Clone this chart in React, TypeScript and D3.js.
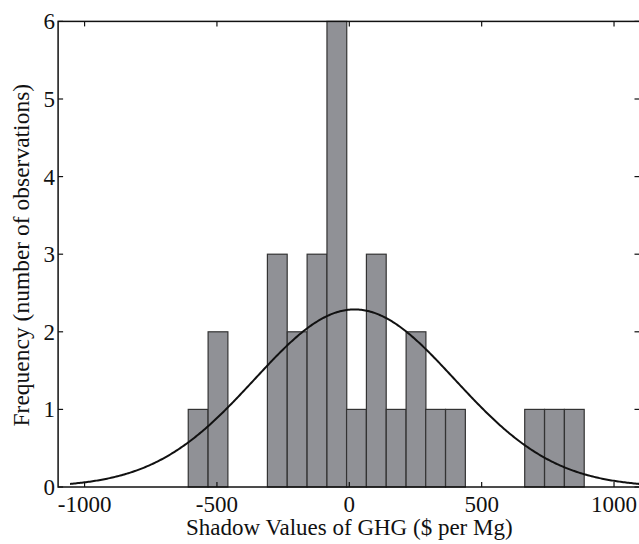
import React from "react";
import * as d3 from "d3";

// histogram bins (centres in $ per Mg) and counts
const binCenters = [-571, -496, -421, -346, -272, -197, -122, -47, 27, 102, 177, 252, 326, 401, 476, 551, 625, 700, 775, 850];
const counts = [1, 2, 0, 0, 3, 2, 3, 6, 1, 3, 1, 2, 1, 1, 0, 0, 0, 1, 1, 1];
const binWidth = 74.75;

// fitted normal (histfit) parameters estimated from the curve
const fitMean = 20;
const fitSd = 378;
const fitRange = [-1055, 1095];

const xTicks = [-1000, -500, 0, 500, 1000];
const yTicks = [0, 1, 2, 3, 4, 5, 6];

const W = 639;
const H = 544;
const font = "'Liberation Serif', 'Times New Roman', serif";

export default function App() {
  const x = d3.scaleLinear().domain([-1100, 1100]).range([58.1, 640.5]);
  const y = d3.scaleLinear().domain([0, 6]).range([487, 21.4]);

  const n = d3.sum(counts);
  const pdf = (v: number) =>
    (n * binWidth) / (fitSd * Math.sqrt(2 * Math.PI)) * Math.exp(-0.5 * ((v - fitMean) / fitSd) ** 2);
  const curveX = d3.range(fitRange[0], fitRange[1] + 1, 5);
  const fitLine = d3
    .line<number>()
    .x((v) => x(v))
    .y((v) => y(pdf(v)));

  const [x0, x1] = x.range();
  const [y0, y1] = y.range();
  const tick = 5;

  return (
    <svg width={W} height={H} style={{ position: "absolute", left: 0, top: 0, background: "#fff" }}>
      <defs>
        <clipPath id="plot">
          <rect x={x0} y={y1} width={x1 - x0} height={y0 - y1} />
        </clipPath>
      </defs>

      {/* bars */}
      {counts.map((c, i) =>
        c > 0 ? (
          <rect
            key={i}
            x={x(binCenters[i] - binWidth / 2)}
            y={y(c)}
            width={x(binCenters[i] + binWidth / 2) - x(binCenters[i] - binWidth / 2)}
            height={y(0) - y(c)}
            fill="#909196"
            stroke="#333"
            strokeWidth={1.2}
          />
        ) : null
      )}

      {/* fit curve */}
      <path d={fitLine(curveX) ?? ""} fill="none" stroke="#111" strokeWidth={2} clipPath="url(#plot)" />

      {/* frame */}
      <rect x={x0} y={y1} width={x1 - x0} height={y0 - y1} fill="none" stroke="#111" strokeWidth={1.5} />

      {/* x ticks (bottom and top, inward) */}
      {xTicks.map((t) => (
        <g key={t}>
          <line x1={x(t)} x2={x(t)} y1={y0} y2={y0 - tick} stroke="#111" strokeWidth={1.2} />
          <line x1={x(t)} x2={x(t)} y1={y1} y2={y1 + tick} stroke="#111" strokeWidth={1.2} />
          <text x={x(t)} y={512} textAnchor="middle" fontFamily={font} fontSize={23} fill="#111">
            {t}
          </text>
        </g>
      ))}

      {/* y ticks (left and right, inward) */}
      {yTicks.map((t) => (
        <g key={t}>
          <line x1={x0} x2={x0 + tick} y1={y(t)} y2={y(t)} stroke="#111" strokeWidth={1.2} />
          <line x1={x1} x2={x1 - tick - 1} y1={y(t)} y2={y(t)} stroke="#111" strokeWidth={1.2} />
          <text x={55} y={y(t)} dy="0.35em" textAnchor="end" fontFamily={font} fontSize={23} fill="#111">
            {t}
          </text>
        </g>
      ))}

      <text x={(x0 + x1) / 2} y={535} textAnchor="middle" fontFamily={font} fontSize={23} fill="#111">
        Shadow Values of GHG ($ per Mg)
      </text>
      <text
        transform={`translate(29, ${(y0 + y1) / 2 + 1}) rotate(-90)`}
        textAnchor="middle"
        fontFamily={font}
        fontSize={23.5}
        fill="#111"
      >
        Frequency (number of observations)
      </text>
    </svg>
  );
}
